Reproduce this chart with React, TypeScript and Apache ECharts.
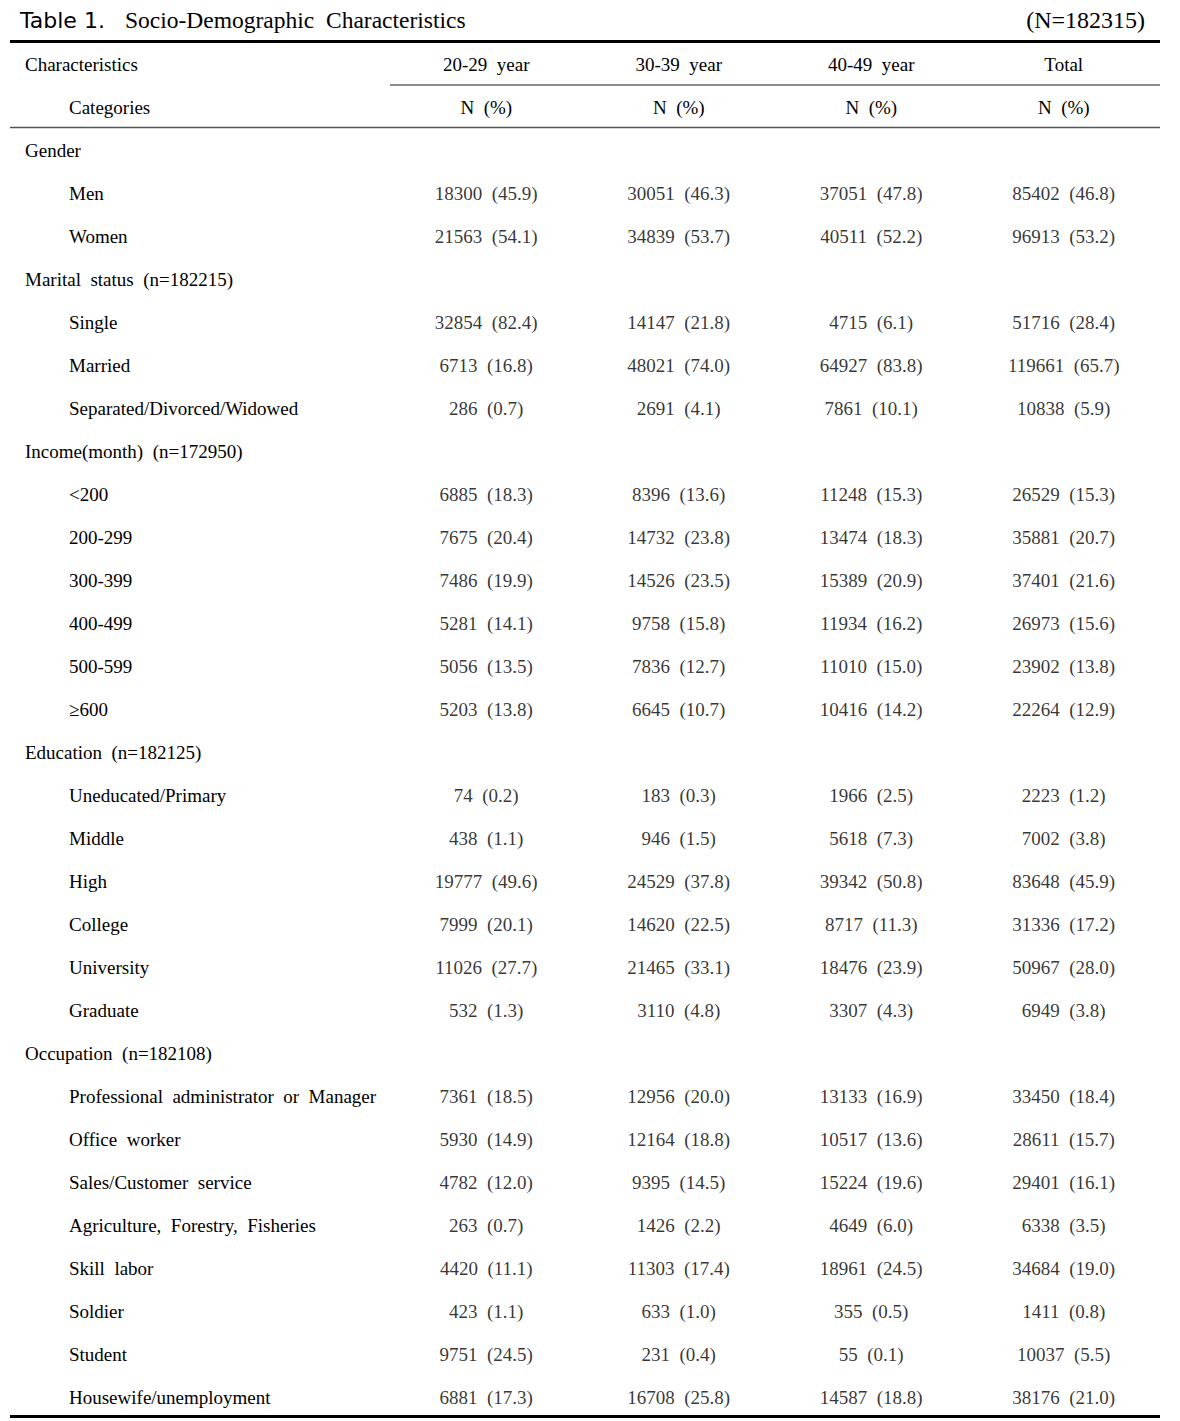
import React, { useEffect, useRef } from "react";
import * as echarts from "echarts";

const SERIF = "'Liberation Serif', 'Times New Roman', serif";
const SANS = "'DejaVu Sans', 'Liberation Sans', sans-serif";

const tableTitle = "Table 1.";
const tableSubtitle = "Socio-Demographic  Characteristics";
const sampleSize = "(N=182315)";
const headerLeft = ["Characteristics", "Categories"];
const columnHeaders = ["20-29  year", "30-39  year", "40-49  year", "Total"];
const columnSubHeader = "N  (%)";

const groupLabels = [
  "Gender",
  "Marital  status  (n=182215)",
  "Income(month)  (n=172950)",
  "Education  (n=182125)",
  "Occupation  (n=182108)",
];
const genderItems = ["Men", "Women"];
const maritalItems = ["Single", "Married", "Separated/Divorced/Widowed"];
const incomeItems = ["<200", "200-299", "300-399", "400-499", "500-599", "\u2265600"];
const educationItems = ["Uneducated/Primary", "Middle", "High", "College", "University", "Graduate"];
const occupationItems = [
  "Professional  administrator  or  Manager",
  "Office  worker",
  "Sales/Customer  service",
  "Agriculture,  Forestry,  Fisheries",
  "Skill  labor",
  "Soldier",
  "Student",
  "Housewife/unemployment",
];

// counts and percents, item rows in order
const n20 = [18300, 21563, 32854, 6713, 286, 6885, 7675, 7486, 5281, 5056, 5203, 74, 438, 19777, 7999, 11026, 532, 7361, 5930, 4782, 263, 4420, 423, 9751, 6881];
const p20 = [45.9, 54.1, 82.4, 16.8, 0.7, 18.3, 20.4, 19.9, 14.1, 13.5, 13.8, 0.2, 1.1, 49.6, 20.1, 27.7, 1.3, 18.5, 14.9, 12.0, 0.7, 11.1, 1.1, 24.5, 17.3];
const n30 = [30051, 34839, 14147, 48021, 2691, 8396, 14732, 14526, 9758, 7836, 6645, 183, 946, 24529, 14620, 21465, 3110, 12956, 12164, 9395, 1426, 11303, 633, 231, 16708];
const p30 = [46.3, 53.7, 21.8, 74.0, 4.1, 13.6, 23.8, 23.5, 15.8, 12.7, 10.7, 0.3, 1.5, 37.8, 22.5, 33.1, 4.8, 20.0, 18.8, 14.5, 2.2, 17.4, 1.0, 0.4, 25.8];
const n40 = [37051, 40511, 4715, 64927, 7861, 11248, 13474, 15389, 11934, 11010, 10416, 1966, 5618, 39342, 8717, 18476, 3307, 13133, 10517, 15224, 4649, 18961, 355, 55, 14587];
const p40 = [47.8, 52.2, 6.1, 83.8, 10.1, 15.3, 18.3, 20.9, 16.2, 15.0, 14.2, 2.5, 7.3, 50.8, 11.3, 23.9, 4.3, 16.9, 13.6, 19.6, 6.0, 24.5, 0.5, 0.1, 18.8];
const nTotal = [85402, 96913, 51716, 119661, 10838, 26529, 35881, 37401, 26973, 23902, 22264, 2223, 7002, 83648, 31336, 50967, 6949, 33450, 28611, 29401, 6338, 34684, 1411, 10037, 38176];
const pTotal = [46.8, 53.2, 28.4, 65.7, 5.9, 15.3, 20.7, 21.6, 15.6, 13.8, 12.9, 1.2, 3.8, 45.9, 17.2, 28.0, 3.8, 18.4, 15.7, 16.1, 3.5, 19.0, 0.8, 5.5, 21.0];

const itemGroups = [genderItems, maritalItems, incomeItems, educationItems, occupationItems];

export default function App() {
  const ref = useRef<HTMLDivElement>(null);
  useEffect(() => {
    if (!ref.current) return;
    const chart = echarts.init(ref.current, null, { renderer: "svg" });

    const rowLabels: string[] = [];
    const isGroup: boolean[] = [];
    const itemRowIndex: number[] = [];
    itemGroups.forEach((items, g) => {
      rowLabels.push(groupLabels[g]);
      isGroup.push(true);
      items.forEach((it) => {
        itemRowIndex.push(rowLabels.length);
        rowLabels.push(it);
        isGroup.push(false);
      });
    });

    const cols = [
      [n20, p20],
      [n30, p30],
      [n40, p40],
      [nTotal, pTotal],
    ];
    const series = cols.map(([ns, ps], c) => ({
      type: "scatter",
      symbolSize: 1,
      itemStyle: { color: "rgba(0,0,0,0)" },
      label: {
        show: true,
        position: "inside",
        color: "#000",
        fontFamily: SERIF,
        fontSize: 19,
        formatter: (p: any) => p.data.text,
      },
      data: ns.map((n, i) => ({
        value: [c, itemRowIndex[i]],
        text: `${n}  (${ps[i].toFixed(1)})`,
      })),
    }));

    const fontBase = { fontFamily: SERIF, fontSize: 19, color: "#000" };

    chart.setOption({
      animation: false,
      backgroundColor: "#fff",
      grid: { left: 390, right: 20, top: 128.5, height: 1290, containLabel: false },
      xAxis: {
        type: "category",
        position: "top",
        data: columnHeaders,
        axisLine: { show: false },
        axisTick: { show: false },
        splitLine: { show: false },
        axisLabel: {
          interval: 0,
          margin: 0,
          formatter: (v: string) => `{a|${v}}\n{b|${columnSubHeader}}`,
          rich: {
            a: { ...fontBase, lineHeight: 43 },
            b: { ...fontBase, lineHeight: 43 },
          },
        },
      },
      yAxis: {
        type: "category",
        inverse: true,
        data: rowLabels,
        axisLine: { show: false },
        axisTick: { show: false },
        splitLine: { show: false },
        axisLabel: {
          interval: 0,
          margin: 365,
          align: "left",
          formatter: (v: string, idx: number) => (isGroup[idx] ? `{g|${v}}` : `{i|${v}}`),
          rich: {
            g: { ...fontBase },
            i: { ...fontBase, padding: [0, 0, 0, 44] },
          },
        },
      },
      series,
      graphic: [
        { type: "text", x: 20, y: 20, style: { text: tableTitle, fontFamily: SANS, fontSize: 22, fill: "#000", verticalAlign: "middle", align: "left" } },
        { type: "text", x: 125, y: 20, style: { text: tableSubtitle, fontFamily: SERIF, fontSize: 23.5, fill: "#000", verticalAlign: "middle", align: "left" } },
        { type: "text", x: 1145, y: 20, style: { text: sampleSize, fontFamily: SERIF, fontSize: 24, fill: "#000", verticalAlign: "middle", align: "right" } },
        { type: "text", x: 25, y: 64.5, style: { text: headerLeft[0], fontFamily: SERIF, fontSize: 19, fill: "#000", verticalAlign: "middle", align: "left" } },
        { type: "text", x: 69, y: 107.5, style: { text: headerLeft[1], fontFamily: SERIF, fontSize: 19, fill: "#000", verticalAlign: "middle", align: "left" } },
        { type: "line", shape: { x1: 10, y1: 41.5, x2: 1160, y2: 41.5 }, style: { stroke: "#000", lineWidth: 3 } },
        { type: "line", shape: { x1: 390, y1: 85, x2: 1160, y2: 85 }, style: { stroke: "#666", lineWidth: 1.5 } },
        { type: "line", shape: { x1: 10, y1: 127.5, x2: 1160, y2: 127.5 }, style: { stroke: "#555", lineWidth: 1.5 } },
        { type: "line", shape: { x1: 10, y1: 1416.5, x2: 1160, y2: 1416.5 }, style: { stroke: "#000", lineWidth: 3 } },
      ],
    });
    return () => chart.dispose();
  }, []);
  return <div ref={ref} style={{ position: "absolute", left: 0, top: 0, width: 1180, height: 1421 }} />;
}
